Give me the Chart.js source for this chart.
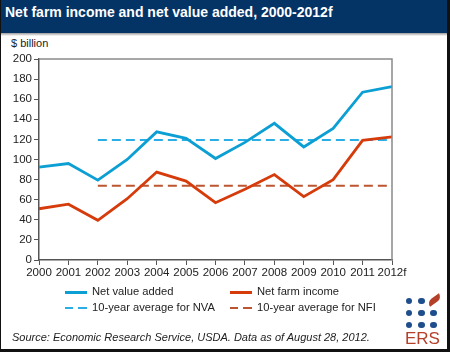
<!DOCTYPE html>
<html>
<head>
<meta charset="utf-8">
<script src="https://cdn.jsdelivr.net/npm/chart.js@4/dist/chart.umd.min.js"></script>
<style>
  html, body { margin: 0; padding: 0; background: #fff; }
  body { width: 450px; height: 352px; position: relative; overflow: hidden; font-family: "Liberation Sans", Arial, sans-serif; }
  .frame { position: absolute; left: 0; top: 0; width: 446px; height: 349px; border-left: 1px solid #111; border-right: 3px solid #111; border-bottom: 3px solid #111; }
  .titlebar { position: absolute; left: 0; top: 0; width: 450px; height: 33px; background: #043366; }
  .titlebar .txt { position: absolute; left: 5px; top: 4px; color: #fff; font-weight: bold; font-size: 14px; }
  .shade { position: absolute; left: 0; top: 33px; width: 450px; height: 3px; background: linear-gradient(#999, #fff); }
  .unit { position: absolute; left: 11px; top: 37px; font-size: 11px; color: #222; }
  #wrap { position: absolute; left: 0; top: 0; width: 450px; height: 352px; }
  .legend { position: absolute; font-size: 11.2px; color: #222; }
  .legend .item { position: absolute; white-space: nowrap; }
  .legend .swatch { position: absolute; top: 6px; width: 22px; height: 0; }
  .legend .lab { position: absolute; left: 27px; top: 0; }
  .source { position: absolute; left: 12px; top: 331px; font-size: 11px; font-style: italic; color: #222; }
  .logo { position: absolute; left: 400px; top: 290px; width: 46px; height: 58px; }
  .dot { position: absolute; width: 6.5px; height: 6.5px; border-radius: 50%; background: #1f4e8c; }
  .ers { position: absolute; left: 5px; top: 40px; font-size: 17px; line-height: 17px; color: #b5402a; }
</style>
</head>
<body>
<div class="titlebar"><div class="txt">Net farm income and net value added, 2000-2012f</div></div>
<div class="shade"></div>
<div class="unit">$ billion</div>
<div id="wrap"><canvas id="myChart" width="450" height="352"></canvas></div>
<div class="legend" id="legend"></div>
<div class="source">Source: Economic Research Service, USDA. Data as of August 28, 2012.</div>
<div class="logo" id="logo"><div class="ers">ERS</div></div>
<div class="frame"></div>
<script>
// Categories and series values ($ billion)
const years = ["2000", "2001", "2002", "2003", "2004", "2005", "2006", "2007", "2008", "2009", "2010", "2011", "2012f"];
const netValueAdded = [92.5, 96, 79.5, 100, 127.5, 121, 101, 117, 136, 112.5, 131, 167, 172.5];
const netFarmIncome = [51, 55.5, 39.5, 61, 87.5, 78.5, 57, 70.5, 85, 63, 80, 119, 122.5];
// 10-year averages, drawn from 2002 to 2012f
const avgNVA = 119.5;
const avgNFI = 74;
const avgStart = 2;
const yTicks = [0, 20, 40, 60, 80, 100, 120, 140, 160, 180, 200];

const avgLine = (v) => years.map((y, i) => (i >= avgStart ? v : null));

const datasets = [
  { label: "Net value added", data: netValueAdded, borderColor: "#0c9fd4", borderWidth: 2.8 },
  { label: "Net farm income", data: netFarmIncome, borderColor: "#d63c0b", borderWidth: 2.8 },
  { label: "10-year average for NVA", data: avgLine(avgNVA), borderColor: "#2aaee6", borderWidth: 2, borderDash: [9, 5] },
  { label: "10-year average for NFI", data: avgLine(avgNFI), borderColor: "#bd5630", borderWidth: 2, borderDash: [9, 5] },
];
datasets.forEach((d) => {
  d.pointRadius = 0;
  d.tension = 0;
  d.fill = false;
  d.spanGaps = false;
});

// Gray box on the top and right of the plot
const boxPlugin = {
  id: "box",
  afterDraw(chart) {
    const { ctx, chartArea: a } = chart;
    ctx.save();
    ctx.strokeStyle = "#8a8a8a";
    ctx.lineWidth = 1.5;
    ctx.beginPath();
    ctx.moveTo(a.left, a.top);
    ctx.lineTo(a.right, a.top);
    ctx.lineTo(a.right, a.bottom);
    ctx.stroke();
    ctx.restore();
  },
};

const tickFont = { family: "'Liberation Sans', Arial, sans-serif", size: 11.5 };

const ctx = document.getElementById("myChart").getContext("2d");
const myChart = new Chart(ctx, {
  type: "line",
  data: { labels: years, datasets: datasets },
  options: {
    responsive: false,
    animation: false,
    layout: { padding: { top: 59, right: 58, bottom: 0, left: 0 } },
    plugins: { legend: { display: false }, tooltip: { enabled: false } },
    scales: {
      x: {
        offset: false,
        grid: { display: true, drawOnChartArea: false, drawTicks: true, tickLength: 5, color: "#555" },
        border: { color: "#555", width: 1.5 },
        ticks: { color: "#222", font: tickFont, padding: 1, maxRotation: 0, autoSkip: false },
        afterFit: (s) => { s.height = 92; },
      },
      y: {
        min: 0,
        max: 200,
        afterBuildTicks: (s) => { s.ticks = yTicks.map((v) => ({ value: v })); },
        grid: { display: true, drawOnChartArea: false, drawTicks: true, tickLength: 5, color: "#555" },
        border: { color: "#555", width: 1.5 },
        ticks: { color: "#222", font: tickFont, padding: 2 },
        afterFit: (s) => { s.width = 39; },
      },
    },
  },
  plugins: [boxPlugin],
});

// Legend in two columns, built from the datasets
const legend = document.getElementById("legend");
const legendPos = [[65, 285], [230, 285], [65, 301], [230, 301]];
datasets.forEach((d, k) => {
  const item = document.createElement("div");
  item.className = "item";
  item.style.left = legendPos[k][0] + "px";
  item.style.top = legendPos[k][1] + "px";
  const sw = document.createElement("div");
  sw.className = "swatch";
  if (d.borderDash) {
    sw.style.height = "2px";
    sw.style.background = "linear-gradient(90deg, " + d.borderColor + " 0 8px, transparent 8px 13px, " + d.borderColor + " 13px 22px)";
  } else {
    sw.style.borderTop = "3px solid " + d.borderColor;
  }
  const lab = document.createElement("div");
  lab.className = "lab";
  lab.textContent = d.label;
  item.appendChild(sw);
  item.appendChild(lab);
  legend.appendChild(item);
});

// ERS logo dots
const logo = document.getElementById("logo");
const dotX = [5.75, 18, 30.25];
const dotY = [7.75, 19.75, 31.75];
dotY.forEach((ty, r) => {
  dotX.forEach((tx, c) => {
    if (r === 0 && c === 2) return;
    const dot = document.createElement("div");
    dot.className = "dot";
    dot.style.left = tx + "px";
    dot.style.top = ty + "px";
    logo.appendChild(dot);
  });
});
const leaf = document.createElement("div");
leaf.style.cssText = "position:absolute;left:27px;top:7px;width:15px;height:6px;background:#b5402a;border-radius:9px 0 9px 0;transform:rotate(-35deg);";
logo.appendChild(leaf);
</script>
</body>
</html>
